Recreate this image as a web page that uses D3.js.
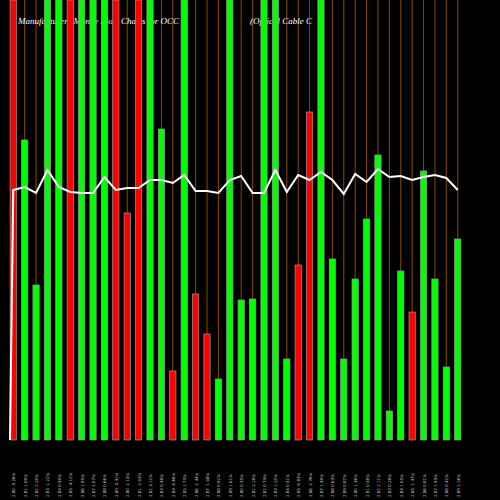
<!DOCTYPE html>
<html><head><meta charset="utf-8">
<script src="https://cdn.jsdelivr.net/npm/d3@7"></script>
<style>body{margin:0;background:#000}</style>
</head><body><div id="chart"></div>
<script>
var volumes = [460,300,155,460,460,460,460,460,460,460,227,460,460,311,69,460,146,106,61,460,140,141,460,460,81,175,328,460,181,81,161,221,285,29,169,128,269,161,73,201];
var up = [0,1,1,1,1,0,1,1,1,0,0,0,1,1,0,1,0,0,1,1,1,1,1,1,1,0,0,1,1,1,1,1,1,1,1,0,1,1,1,1];
var lineVals = [250,253,247,270,253,248,247,247,263,250,252,252,260,260,257,265,249,249,247,260,264,247,247,270,248,265,260,268,260,246,266,258,271,263,264,260,263,265,262,250];
var labels = [];
var pcts = ["-5.26","1.09","2.20","-1.22","0.59","-4.12","1.85","2.07","0.66","-3.41","-1.15","-2.03","3.12","0.48","-0.66","1.73","-2.44","-1.08","0.92","1.61","0.35","2.18","0.74","1.20","0.51","-0.83","-2.76","1.49","0.63","0.87","1.36","0.58","2.11","0.28","1.05","-1.47","0.81","1.93","0.42","1.16"];
for (var i = 0; i < up.length; i++) labels.push("2.8" + (i % 10) + " " + pcts[i] + "%");

var w = 500, h = 500, base = 440;
var svg = d3.select("#chart").append("svg").attr("width", w).attr("height", h)
  .style("background", "#000");

var x = d3.scaleBand().domain(d3.range(up.length)).range([5, 466]).padding(0.45);
var y = d3.scaleLinear().domain([0, 440]).range([base, 0]).clamp(true);
var y2 = d3.scaleLinear().domain([0, 250]).range([base, 190]);

svg.selectAll("line.grid").data(up).enter().append("line")
  .attr("x1", function (d, i) { return x(i) + x.bandwidth() / 2; })
  .attr("x2", function (d, i) { return x(i) + x.bandwidth() / 2; })
  .attr("y1", 0).attr("y2", base)
  .style("stroke", "#8a4a00").style("stroke-width", 1);

// title sits behind the bars
svg.append("text").attr("x", 18).attr("y", 24)
  .text("Manufacturers Money Flow Charts for OCC")
  .style("fill", "#fff").style("font-size", "9px").style("font-style", "italic").style("font-family", "Liberation Serif");
svg.append("text").attr("x", 250).attr("y", 24)
  .text("(Optical Cable  C")
  .style("fill", "#fff").style("font-size", "9px").style("font-style", "italic").style("font-family", "Liberation Serif");

svg.selectAll("rect").data(volumes).enter().append("rect")
  .attr("x", function (d, i) { return x(i); })
  .attr("y", function (d) { return y(d); })
  .attr("width", x.bandwidth())
  .attr("height", function (d) { return base - y(d); })
  .style("fill", function (d, i) { return up[i] ? "#00ff00" : "#ff0000"; })
  .style("stroke", "#999").style("stroke-width", 0.7);

var pts = [[10, base]].concat(lineVals.map(function (d, i) { return [x(i) + x.bandwidth() / 2, y2(d)]; }));
svg.append("path").attr("d", d3.line()(pts))
  .style("fill", "none").style("stroke", "#fff").style("stroke-width", 2);

svg.selectAll("text.lab").data(labels).enter().append("text")
  .attr("transform", function (d, i) { return "translate(" + (x(i) + x.bandwidth() / 2 + 2) + ",497) rotate(-90)"; })
  .text(function (d) { return d; })
  .style("fill", "#ccc").style("font-size", "4px").style("font-family", "DejaVu Sans");
</script></body></html>
